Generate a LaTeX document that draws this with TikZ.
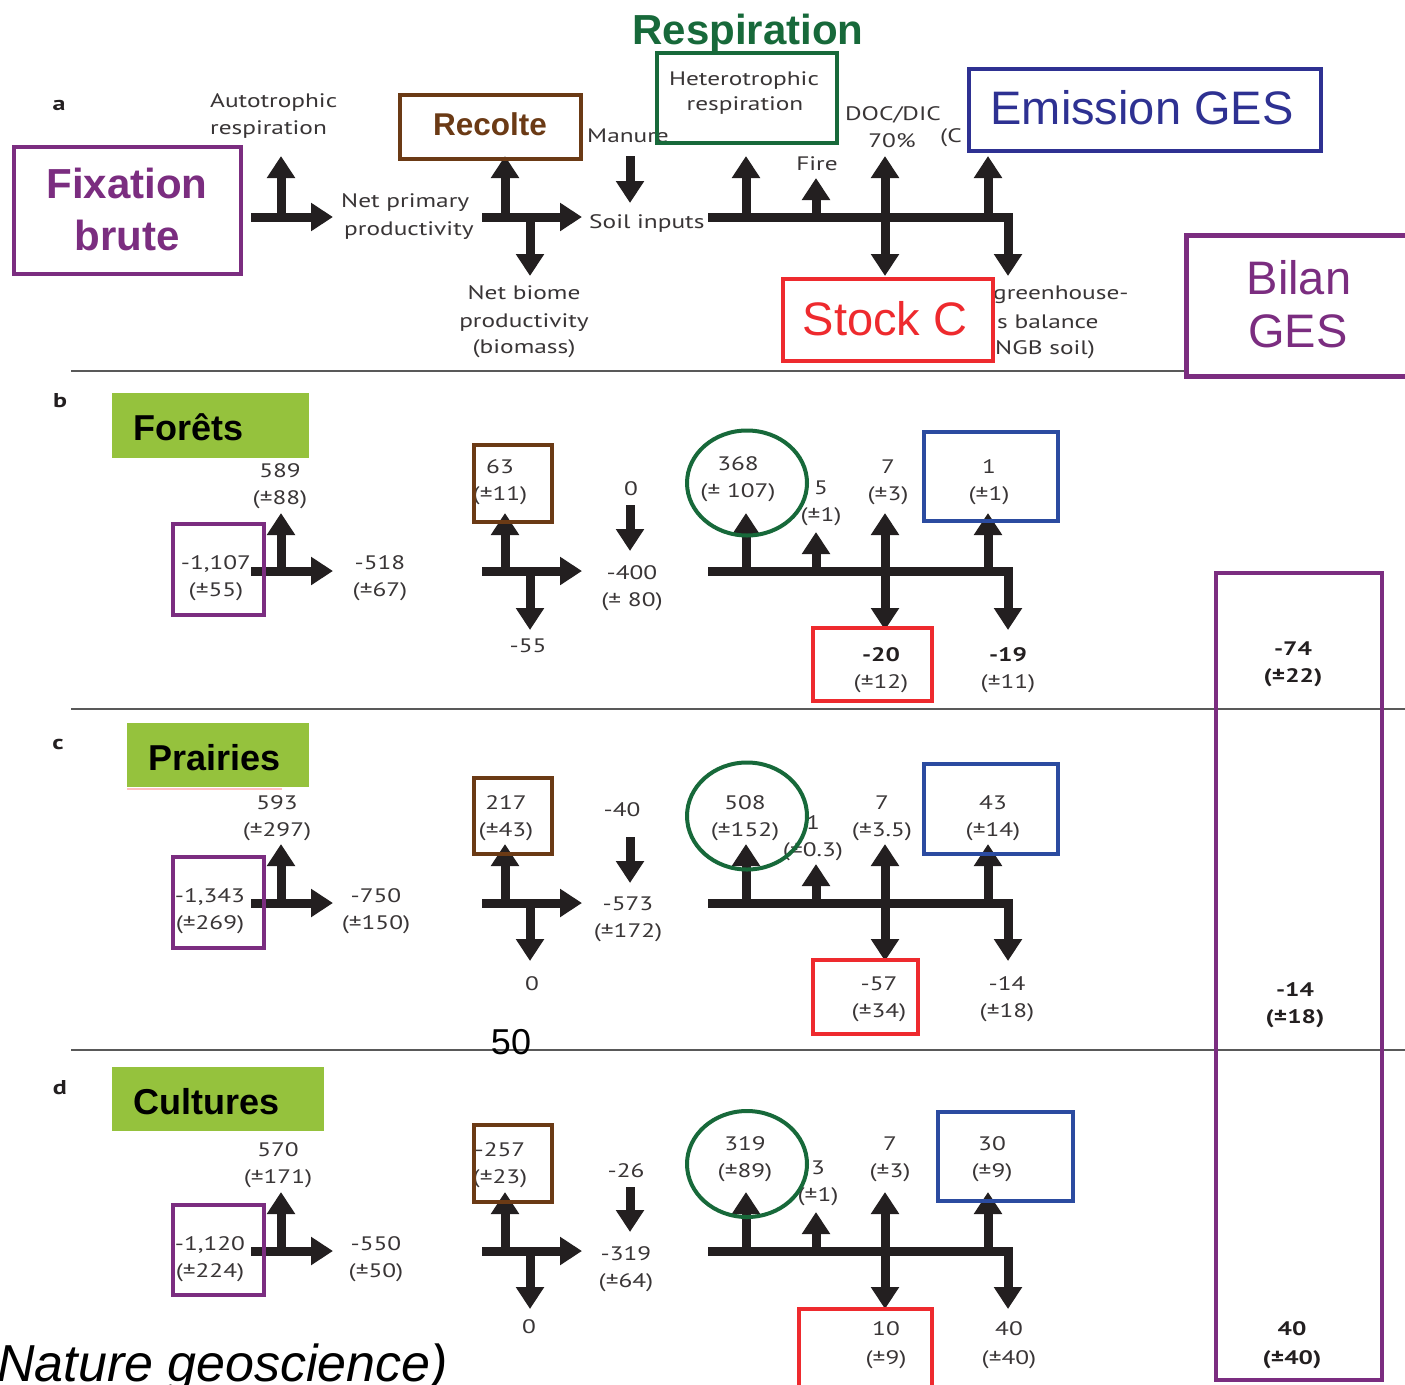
\documentclass[tikz,border=0pt]{standalone}
\usepackage{fontspec}
\setmainfont{PT Sans}
\newfontfamily\figfont[FakeStretch=1.3]{PT Sans}
\newfontfamily\arialfont{Liberation Sans}
\usetikzlibrary{arrows.meta,shapes.geometric}
\definecolor{cpurple}{HTML}{7B2D80}
\definecolor{cgreen}{HTML}{17693A}
\definecolor{cbrown}{HTML}{6B3A15}
\definecolor{cnavy}{HTML}{2E3192}
\definecolor{cblue}{HTML}{2B4BA0}
\definecolor{cred}{HTML}{EE2A2E}
\definecolor{cleaf}{HTML}{95C23D}
\definecolor{ink}{HTML}{231F20}
\tikzset{
  t/.style={font={\figfont\fontsize{19.5}{24}\selectfont}, text=ink!90, inner sep=0pt},
  tb/.style={font={\figfont\bfseries\fontsize{19.5}{24}\selectfont}, text=ink, inner sep=0pt},
  lab/.style={font={\figfont\bfseries\fontsize{20}{24}\selectfont}, text=ink, inner sep=0pt},
  bigb/.style={font={\arialfont\bfseries\fontsize{42}{50}\selectfont}, inner sep=0pt},
  bigr/.style={font={\arialfont\fontsize{47}{56}\selectfont}, inner sep=0pt},
  cat/.style={font={\arialfont\bfseries\fontsize{36}{42}\selectfont}, inner sep=0pt, text=black},
  box/.style={draw, line width=4pt, inner sep=0pt, rectangle},
  oval/.style={draw=cgreen, line width=4pt, inner sep=0pt, ellipse},
  leaf/.style={fill=cleaf, inner sep=0pt, rectangle},
  arr/.style={draw=ink, line width=9pt, -{Triangle[width=27pt,length=22pt]}},
  darr/.style={draw=ink, line width=9pt, {Triangle[width=27pt,length=22pt]}-{Triangle[width=27pt,length=22pt]}},
  sep/.style={draw=black!65, line width=2.5pt}
}
% two-line label: [style]{name}{x}{y of first line}{line1}{line2}
\newcommand{\pair}[6][t]{%
  \node[#1,anchor=base] (#2a) at (#3,#4+7) {#5};
  \node[#1,anchor=base] (#2b) at (#3,#4+34) {#6};}
% arrow set of one row: {prefix}{Y bar}{up tip}{fire tip}{down tip}{manure top}{manure tip}
\newcommand{\flowrow}[7]{%
  \coordinate (#1Ls) at (251,#2); \coordinate (#1Le) at (333,#2);
  \coordinate (#1Lv) at (281,#2); \coordinate (#1Lt) at (281,#3);
  \coordinate (#1Cs) at (482,#2); \coordinate (#1Ce) at (582,#2);
  \coordinate (#1Cu) at (505,#2); \coordinate (#1Cut) at (505,#3);
  \coordinate (#1Cd) at (530,#2); \coordinate (#1Cdt) at (530,#5);
  \coordinate (#1Ms) at (630,#6); \coordinate (#1Mt) at (630,#7);
  \coordinate (#1Bs) at (708,#2); \coordinate (#1Bt) at (1008,#5);
  \coordinate (#1R) at (746,#2); \coordinate (#1Rt) at (746,#3);
  \coordinate (#1F) at (816,#2); \coordinate (#1Ft) at (816,#4);
  \coordinate (#1Dt) at (885,#3); \coordinate (#1Dd) at (885,#5);
  \coordinate (#1G) at (988,#2); \coordinate (#1Gt) at (988,#3);
  \draw[arr] (#1Ls) -- (#1Le);
  \draw[arr] (#1Lv) -- (#1Lt);
  \draw[arr] (#1Cs) -- (#1Ce);
  \draw[arr] (#1Cu) -- (#1Cut);
  \draw[arr] (#1Cd) -- (#1Cdt);
  \draw[arr] (#1Ms) -- (#1Mt);
  \draw[arr] (#1Bs) -| (#1Bt);
  \draw[arr] (#1R) -- (#1Rt);
  \draw[arr] (#1F) -- (#1Ft);
  \draw[darr] (#1Dt) -- (#1Dd);
  \draw[arr] (#1G) -- (#1Gt);}
\begin{document}
\begin{tikzpicture}[x=1pt,y=-1pt]
\clip (0,0) rectangle (1405,1384);
\fill[white] (0,0) rectangle (1405,1384);

% separators
\coordinate (s1a) at (71,371); \coordinate (s1b) at (1186,371);
\coordinate (s2a) at (71,709); \coordinate (s2b) at (1405,709);
\coordinate (s3a) at (71,1050); \coordinate (s3b) at (1405,1050);
\draw[sep] (s1a) -- (s1b);
\draw[sep] (s2a) -- (s2b);
\draw[sep] (s3a) -- (s3b);

% ---------- panel a texts ----------
\node[lab,anchor=base] (la) at (59,110) {a};
\node[t,anchor=base west] (auto1) at (210,107) {Autotrophic};
\node[t,anchor=base west] (auto2) at (210,134) {respiration};
\node[t,anchor=base west] (npp1) at (341,207) {Net primary};
\node[t,anchor=base west] (npp2) at (344,235) {productivity};
\node[t,anchor=base] (nbp1) at (524,299) {Net biome};
\node[t,anchor=base] (nbp2) at (524,327) {productivity};
\node[t,anchor=base] (nbp3) at (524,353) {(biomass)};
\node[t,anchor=base west] (manure) at (587,142) {Manure};
\node[t,anchor=base west] (soil) at (589,228) {Soil inputs};
\node[t,anchor=base] (het1) at (744,85) {Heterotrophic};
\node[t,anchor=base] (het2) at (745,110) {respiration};
\node[t,anchor=base] (doc1) at (893,120) {DOC/DIC};
\node[t,anchor=base] (doc2) at (892,147) {70\%};
\node[t,anchor=base west] (ch4) at (940,142) {(C};
\node[t,anchor=base] (fire) at (817,170) {Fire};
\node[t,anchor=base west] (ngb1) at (993,299) {greenhouse-};
\node[t,anchor=base west] (ngb2) at (997,328) {s balance};
\node[t,anchor=base west] (ngb3) at (995,354) {NGB soil)};

% ---------- row b texts ----------
\node[lab,anchor=base] (lb) at (60,407) {b};
\pair{b589}{280}{470}{589}{(±88)}
\pair{b1107}{216}{562}{-1,107}{(±55)}
\pair{b518}{380}{562}{-518}{(±67)}
\pair{b63}{500}{466}{63}{(±11)}
\node[t,anchor=base] (b0) at (631,495) {0};
\pair{b400}{632}{572}{-400}{(± 80)}
\node[t,anchor=base] (b55) at (528,652) {-55};
\pair{b368}{738}{463}{368}{(± 107)}
\pair{b5}{821}{487}{5}{(±1)}
\pair{b7}{888}{466}{7}{(±3)}
\pair{b1}{989}{466}{1}{(±1)}
\node[tb,anchor=base] (b20a) at (881,661) {-20};
\node[t,anchor=base] (b20b) at (881,688) {(±12)};
\node[tb,anchor=base] (b19a) at (1008,661) {-19};
\node[t,anchor=base] (b19b) at (1008,688) {(±11)};
\pair[tb]{b74}{1293}{648}{-74}{(±22)}

% ---------- row c texts ----------
\node[lab,anchor=base] (lc) at (58,749) {c};
\pair{c593}{277}{802}{593}{(±297)}
\pair{c1343}{210}{895}{-1,343}{(±269)}
\pair{c750}{376}{895}{-750}{(±150)}
\pair{c217}{506}{802}{217}{(±43)}
\node[t,anchor=base] (c40) at (622,816) {-40};
\pair{c573}{628}{903}{-573}{(±172)}
\node[t,anchor=base] (c0) at (532,990) {0};
\pair{c508}{745}{802}{508}{(±152)}
\pair{c1}{813}{822}{1}{(±0.3)}
\pair{c7}{882}{802}{7}{(±3.5)}
\pair{c43}{993}{802}{43}{(±14)}
\pair{c57}{879}{983}{-57}{(±34)}
\pair{c14}{1007}{983}{-14}{(±18)}
\pair[tb]{cbil}{1295}{989}{-14}{(±18)}

% ---------- row d texts ----------
\node[lab,anchor=base] (ld) at (60,1094) {d};
\pair{d570}{278}{1149}{570}{(±171)}
\pair{d1120}{210}{1243}{-1,120}{(±224)}
\pair{d550}{376}{1243}{-550}{(±50)}
\pair{d257}{500}{1149}{-257}{(±23)}
\node[t,anchor=base] (d26) at (626,1177) {-26};
\pair{d319b}{626}{1253}{-319}{(±64)}
\node[t,anchor=base] (d0) at (529,1333) {0};
\pair{d319}{745}{1143}{319}{(±89)}
\pair{d3}{818}{1167}{3}{(±1)}
\pair{d7}{890}{1143}{7}{(±3)}
\pair{d30}{992}{1143}{30}{(±9)}
\node[t,anchor=base] (d10a) at (886,1335) {10};
\node[t,anchor=base] (d10b) at (886,1364) {(±9)};
\node[t,anchor=base] (d40a) at (1009,1335) {40};
\node[t,anchor=base] (d40b) at (1009,1364) {(±40)};
\node[tb,anchor=base] (dbila) at (1292,1335) {40};
\node[tb,anchor=base] (dbilb) at (1292,1364) {(±40)};

% ---------- arrows ----------
\flowrow{a}{217}{156}{178}{276}{156}{203}
\flowrow{b}{571}{513}{532}{630}{505}{551}
\flowrow{c}{903}{844}{864}{961}{837}{883}
\flowrow{d}{1251}{1192}{1212}{1309}{1187}{1232}

% ---------- panel a boxes ----------
\node[box,draw=cpurple,minimum width=227,minimum height=127] (fixbox) at (127.5,210.5) {};
\node[bigb,text=cpurple,anchor=base] (fix1) at (127,198) {Fixation};
\node[bigb,text=cpurple,anchor=base] (fix2) at (127,250) {brute};
\node[box,draw=cbrown,minimum width=181,minimum height=64] (recbox) at (490.5,127) {};
\node[text=cbrown,anchor=base,font={\arialfont\bfseries\fontsize{31.5}{36}\selectfont},inner sep=0pt] (rec) at (490,135) {Recolte};
\node[box,draw=cgreen,minimum width=180,minimum height=90] (hetbox) at (747,98) {};
\node[bigb,text=cgreen,anchor=base] (resp) at (748,44) {Respiration};
\node[box,draw=cnavy,fill=white,minimum width=352,minimum height=82] (emibox) at (1145,110) {};
\node[bigr,text=cnavy,anchor=base] (emi) at (1142,124) {Emission GES};
\node[box,draw=cred,fill=white,minimum width=210,minimum height=82] (stockbox) at (888,320) {};
\node[bigr,text=cred,anchor=base] (stock) at (885,335) {Stock C};
\node[box,draw=cpurple,fill=white,line width=5pt,minimum width=232,minimum height=141] (bilbox) at (1302,305.5) {};
\node[bigr,text=cpurple,anchor=base] (bil1) at (1299,294) {Bilan};
\node[bigr,text=cpurple,anchor=base] (bil2) at (1298,347) {GES};

% ---------- category tags ----------
\node[leaf,minimum width=197,minimum height=65] (forbox) at (210.5,425.5) {};
\node[cat,anchor=base west] (for) at (133,440) {Forêts};
\coordinate (pk1) at (127,789); \coordinate (pk2) at (282,789);
\draw[red!25,line width=2pt] (pk1) -- (pk2);
\node[leaf,minimum width=182,minimum height=64] (prabox) at (218,755) {};
\node[cat,anchor=base west] (pra) at (148,770) {Prairies};
\node[leaf,minimum width=212,minimum height=64] (culbox) at (218,1099) {};
\node[cat,anchor=base west] (cul) at (133,1114) {Cultures};

% ---------- row boxes ----------
\node[box,draw=cpurple,minimum width=91,minimum height=91] (bpur) at (218.5,569.5) {};
\node[box,draw=cbrown,minimum width=78,minimum height=77] (bbro) at (513,483.5) {};
\node[box,draw=cblue,minimum width=134,minimum height=89] (bblu) at (991,476.5) {};
\node[box,draw=cred,minimum width=119,minimum height=73] (bred) at (872.5,664.5) {};
\node[oval,minimum width=120,minimum height=105] (bov) at (747,483) {};

\node[box,draw=cpurple,minimum width=91,minimum height=91] (cpur) at (218.5,902.5) {};
\node[box,draw=cbrown,minimum width=78,minimum height=76] (cbro) at (513,816) {};
\node[box,draw=cblue,minimum width=134,minimum height=90] (cblu) at (991,809) {};
\node[box,draw=cred,minimum width=105,minimum height=74] (cred) at (865.5,997) {};
\node[oval,minimum width=120,minimum height=107] (cov) at (747,816) {};

\node[box,draw=cpurple,minimum width=91,minimum height=90] (dpur) at (218.5,1250) {};
\node[box,draw=cbrown,minimum width=78,minimum height=77] (dbro) at (513,1163.5) {};
\node[box,draw=cblue,minimum width=135,minimum height=89] (dblu) at (1005.5,1156.5) {};
\node[box,draw=cred,minimum width=133,minimum height=81] (dred) at (865.5,1349.5) {};
\node[oval,minimum width=120,minimum height=106] (dov) at (747,1164) {};

\node[box,draw=cpurple,minimum width=166,minimum height=807] (bilcol) at (1299,976.5) {};

% ---------- misc ----------
\node[anchor=base,font={\arialfont\fontsize{36}{40}\selectfont},inner sep=0pt] (pg) at (511,1054) {50};
\node[anchor=base west,font={\arialfont\itshape\fontsize{52}{60}\selectfont},inner sep=0pt] (src) at (-3,1381) {Nature geoscience)};
\end{tikzpicture}
\end{document}
